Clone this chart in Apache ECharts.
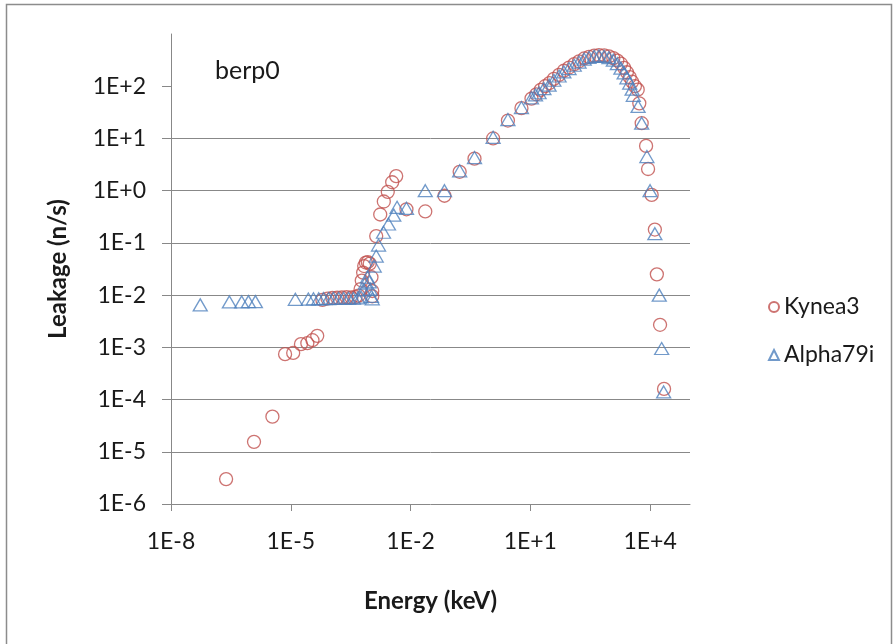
<!DOCTYPE html>
<html>
<head>
<meta charset="utf-8">
<script src="https://cdn.jsdelivr.net/npm/echarts@6/dist/echarts.min.js"></script>
<style>
  html, body { margin: 0; padding: 0; background: #ffffff; }
  #chart { width: 896px; height: 644px; }
</style>
</head>
<body>
<div id="chart"></div>
<script>
// Axis ticks and their printed labels
const xTickValues = [1e-8, 1e-5, 1e-2, 1e1, 1e4];
const xTickLabels = ['1E-8', '1E-5', '1E-2', '1E+1', '1E+4'];
const yTickValues = [1e-6, 1e-5, 1e-4, 1e-3, 1e-2, 1e-1, 1e0, 1e1, 1e2];
const yTickLabels = ['1E-6', '1E-5', '1E-4', '1E-3', '1E-2', '1E-1', '1E+0', '1E+1', '1E+2'];

// Series names
const seriesNames = ['Kynea3', 'Alpha79i'];

// Kynea3: energy (keV) and leakage (n/s)
const kyneaEnergy = [
  2.4e-7, 1.2e-6, 3.47e-6, 7.2e-6, 1.15e-5, 1.8e-5, 2.6e-5, 3.5e-5, 4.6e-5,
  6.2e-5, 8.3e-5, 1.1e-4, 1.45e-4, 1.9e-4, 2.5e-4, 3.3e-4, 4.2e-4, 5.0e-4,
  5.6e-4, 6.0e-4, 6.5e-4, 6.9e-4, 7.6e-4, 8.5e-4, 9.5e-4, 1.05e-3, 1.1e-3, 1.1e-3,
  1.38e-3, 1.74e-3, 2.14e-3, 2.69e-3, 3.47e-3, 4.37e-3,
  7.9e-3, 0.0234, 0.0708, 0.17, 0.40, 1.17, 2.75, 6.0, 10.7,
  14.1, 18.2, 23.4, 30.2, 38.9, 52.5, 69.2, 93.3, 126, 166, 224, 295, 398, 525,
  708, 933, 1202, 1514, 1862, 2239, 2630, 3090, 3548, 4169, 4898, 5370, 6166,
  7943, 8913, 10965, 13183, 14791, 17783, 22387
];
const kyneaLeakage = [
  3.0e-6, 1.55e-5, 4.7e-5, 7.4e-4, 7.8e-4, 1.15e-3, 1.2e-3, 1.37e-3, 1.66e-3,
  0.0081, 0.0086, 0.0088, 0.0089, 0.009, 0.0091, 0.009, 0.0092, 0.0098,
  0.013, 0.019, 0.027, 0.036, 0.042, 0.043, 0.040, 0.022, 0.012, 0.0095,
  0.135, 0.35, 0.62, 0.95, 1.45, 1.9,
  0.44, 0.40, 0.80, 2.3, 4.1, 10, 22, 38, 58,
  70, 85, 100, 115, 138, 165, 198, 228, 265, 300, 340, 365, 385, 395,
  390, 372, 345, 310, 270, 225, 185, 150, 122, 100, 86, 47, 19.6,
  7.2, 2.6, 0.83, 0.18, 0.025, 0.0027, 1.6e-4
];

// Alpha79i: energy (keV) and leakage (n/s)
const alphaEnergy = [
  5.4e-8, 2.9e-7, 5.9e-7, 8.7e-7, 1.3e-6, 1.3e-5,
  2.75e-5, 3.7e-5, 5.0e-5, 6.6e-5, 8.9e-5, 1.17e-4, 1.58e-4, 2.1e-4, 2.8e-4, 3.7e-4, 4.8e-4,
  5.75e-4, 6.6e-4, 7.4e-4, 8.3e-4, 9.3e-4, 9.8e-4, 1.05e-3, 1.1e-3,
  1.23e-3, 1.38e-3, 1.58e-3, 2.1e-3, 2.8e-3, 3.8e-3, 4.6e-3,
  7.9e-3, 0.0234, 0.0708, 0.17, 0.40, 1.17, 2.75, 6.0, 10.7,
  13.5, 16.6, 21.9, 29.5, 38.9, 52.5, 69.2, 93.3, 126, 166, 224, 295, 398, 525,
  708, 933, 1202, 1514, 1862, 2239, 2630, 3090, 3548, 3802, 5012, 6166,
  8318, 10000, 13183, 16982, 19498, 21878
];
const alphaLeakage = [
  0.0065, 0.0074, 0.0074, 0.0075, 0.0075, 0.0083,
  0.0084, 0.0085, 0.0085, 0.0086, 0.0086, 0.0087, 0.0087, 0.0087, 0.0087, 0.0087, 0.0088,
  0.0092, 0.0126, 0.017, 0.022, 0.018, 0.013, 0.0095, 0.0085,
  0.036, 0.056, 0.091, 0.16, 0.23, 0.34, 0.48,
  0.46, 1.0, 1.0, 2.4, 4.3, 10.5, 23, 39, 60,
  68, 75, 90, 105, 130, 157, 188, 218, 252, 290, 330, 355, 372, 380,
  372, 352, 315, 270, 222, 180, 145, 115, 88, 67, 41, 19.6,
  4.5, 1.0, 0.15, 0.01, 9.5e-4, 1.4e-4
];

const zip = (xs, ys) => xs.map((x, i) => [x, ys[i]]);

function labelFor(values, labels) {
  return function (v) {
    const lv = Math.log10(v);
    for (let i = 0; i < values.length; i++) {
      if (Math.abs(Math.log10(values[i]) - lv) < 1e-6) return labels[i];
    }
    return '';
  };
}

const FONT = 'Lato';
const GRID_GREY = '#888888';
const TEXT = '#1a1a1a';
const RED = '#c0504d';
const BLUE = '#4f81bd';

const chart = echarts.init(document.getElementById('chart'), null, { renderer: 'canvas' });

chart.setOption({
  backgroundColor: '#ffffff',
  animation: false,
  title: {
    text: 'berp0',
    left: 194,
    top: 52,
    padding: [6, 21, 8, 21],
    backgroundColor: '#ffffff',
    textStyle: { fontFamily: FONT, fontSize: 25, fontWeight: 'normal', color: TEXT }
  },
  grid: { left: 171, right: 206, top: 34, bottom: 140, containLabel: false },
  legend: {
    orient: 'vertical',
    left: 763,
    top: 290,
    itemGap: 24,
    itemWidth: 10,
    itemHeight: 10,
    textStyle: { fontFamily: FONT, fontSize: 23, color: TEXT, lineHeight: 24 },
    data: seriesNames
  },
  xAxis: {
    type: 'log',
    logBase: 10,
    min: 1e-8,
    max: 1e5,
    name: 'Energy (keV)',
    nameLocation: 'middle',
    nameGap: 85,
    nameTextStyle: { fontFamily: FONT, fontSize: 24, fontWeight: 'bold', color: TEXT },
    axisLine: { show: true, onZero: false, lineStyle: { color: GRID_GREY, width: 1 } },
    axisTick: { show: true, length: 7, lineStyle: { color: GRID_GREY }, customValues: xTickValues },
    axisLabel: {
      margin: 26, fontFamily: FONT, fontSize: 23, color: TEXT,
      customValues: xTickValues,
      formatter: labelFor(xTickValues, xTickLabels)
    },
    splitLine: { show: false },
    minorTick: { show: false }
  },
  yAxis: {
    type: 'log',
    logBase: 10,
    min: 1e-6,
    max: 1e3,
    name: 'Leakage (n/s)',
    nameLocation: 'middle',
    nameGap: 101,
    nameTextStyle: { fontFamily: FONT, fontSize: 24, fontWeight: 'bold', color: TEXT },
    axisLine: { show: true, onZero: false, lineStyle: { color: GRID_GREY, width: 1 } },
    axisTick: { show: true, length: 9, lineStyle: { color: GRID_GREY }, customValues: yTickValues },
    axisLabel: {
      margin: 25, fontFamily: FONT, fontSize: 23, color: TEXT,
      customValues: yTickValues,
      formatter: labelFor(yTickValues, yTickLabels)
    },
    splitLine: { show: true, showMinLine: false, showMaxLine: false, lineStyle: { color: GRID_GREY, width: 1 } }
  },
  graphic: [{
    type: 'rect',
    silent: true,
    z: 100,
    shape: { x: 6.5, y: 4.5, width: 885, height: 700 },
    style: { fill: 'none', stroke: '#8c8c8c', lineWidth: 1.5 }
  }],
  series: [
    {
      name: seriesNames[0],
      type: 'scatter',
      symbol: 'circle',
      symbolSize: 13,
      itemStyle: { color: 'rgba(0,0,0,0)', borderColor: RED, borderWidth: 1.3 },
      data: zip(kyneaEnergy, kyneaLeakage)
    },
    {
      name: seriesNames[1],
      type: 'scatter',
      symbol: 'triangle',
      symbolSize: [14, 12],
      itemStyle: { color: 'rgba(0,0,0,0)', borderColor: BLUE, borderWidth: 1.3 },
      data: zip(alphaEnergy, alphaLeakage)
    }
  ]
});
</script>
</body>
</html>
